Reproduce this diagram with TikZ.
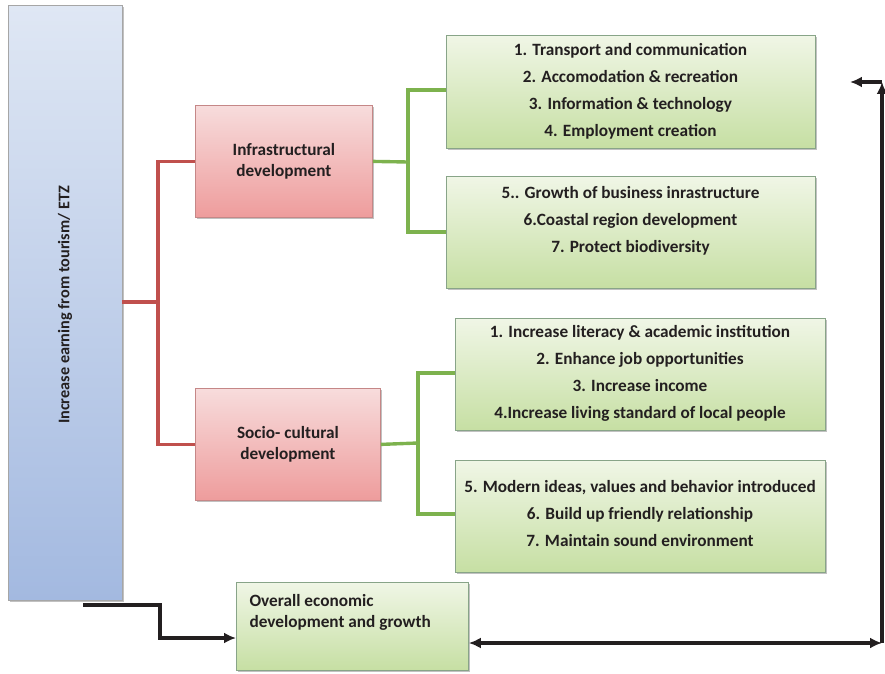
\documentclass[tikz,border=0pt]{standalone}
\usepackage{fontspec}
\setmainfont{Carlito}
\usetikzlibrary{shadows,arrows.meta}
\definecolor{txt}{HTML}{231F20}
\definecolor{redln}{HTML}{C0504D}
\definecolor{grnln}{HTML}{7DB24E}
\definecolor{blueT}{HTML}{DFE7F4}
\definecolor{blueB}{HTML}{A3B9E0}
\definecolor{redT}{HTML}{F7DCDC}
\definecolor{redB}{HTML}{EE9C9C}
\definecolor{grnT}{HTML}{F0F6E6}
\definecolor{grnB}{HTML}{C6DFA3}
\begin{document}
\begin{tikzpicture}[x=1bp,y=-1bp,
  box/.style={draw=#1, line width=0.8pt, anchor=north west, inner sep=0pt,
    drop shadow={shadow xshift=1.8pt, shadow yshift=-1.8pt, opacity=0.35, fill=black!70}},
  bluebox/.style={box=gray!70, top color=blueT, bottom color=blueB},
  redbox/.style={box=gray!65!red!70, top color=redT, bottom color=redB},
  grnbox/.style={box=gray!60!green!50!black!55, top color=grnT, bottom color=grnB},
  lbl/.style={font=\fontsize{17.3}{27}\selectfont\bfseries, text=txt, align=center},
  redlink/.style={draw=redln, line width=3.4pt},
  grnlink/.style={draw=grnln, line width=3.4pt},
  tip/.style={-{Latex[length=12pt,width=11pt]}},
  blklink/.style={draw=txt, line width=3.2pt, tip},
]
\useasboundingbox (0,0) rectangle (885,674);

% main source box
\node[bluebox, minimum width=114bp, minimum height=595bp] (src) at (8,5) {};
\node[lbl, rotate=90, font=\fontsize{16.3}{20}\selectfont\bfseries] at (65,305) {Increase earning from tourism/ ETZ};

% development boxes
\node[redbox, minimum width=177bp, minimum height=112bp] (infra) at (195,105) {};
\node[lbl, font=\fontsize{17.3}{21}\selectfont\bfseries] at (infra.center) {Infrastructural\\development};
\node[redbox, minimum width=185bp, minimum height=112bp] (socio) at (195,388) {};
\node[lbl, font=\fontsize{17.3}{21}\selectfont\bfseries] at (socio.center) {Socio- cultural\\development};

% outcome boxes
\node[grnbox, minimum width=369bp, minimum height=113bp] (g1) at (446,35) {};
\node[lbl, anchor=north] at (630.5,40) {1. Transport and communication\\2. Accomodation \& recreation\\3. Information \& technology\\4. Employment creation};
\node[grnbox, minimum width=369bp, minimum height=112bp] (g2) at (446,176) {};
\node[lbl, anchor=north] at (630.5,183) {5.. Growth of business inrastructure\\6.Coastal region development\\7. Protect biodiversity};
\node[grnbox, minimum width=370bp, minimum height=112bp] (g3) at (455,318) {};
\node[lbl, anchor=north] at (640,322) {1. Increase literacy \& academic institution\\2. Enhance job opportunities\\3. Increase income\\4.Increase living standard of local people};
\node[grnbox, minimum width=370bp, minimum height=112bp] (g4) at (455,460) {};
\node[lbl, anchor=north] at (640,477) {5. Modern ideas, values and behavior introduced\\6. Build up friendly relationship\\7. Maintain sound environment};

% overall outcome box
\node[grnbox, minimum width=232bp, minimum height=88bp] (ov) at (236,582) {};
\node[lbl, align=left, anchor=north west, font=\fontsize{17.3}{21}\selectfont\bfseries] at (246,591) {Overall economic\\development and growth};

% red branches
\coordinate (rj) at (158,302);
\draw[redlink] (122,302) -- (rj);
\draw[redlink] (infra.west) -| (rj) |- (socio.west);

% green branches
\draw[grnlink] (infra.east) -- (408,162);
\draw[grnlink] (g1.west |- 0,90) -| (408,232) -- (g2.west |- 0,232);
\draw[grnlink] (socio.east) -- (418,443);
\draw[grnlink] (g3.west |- 0,373) -| (418,514) -- (g4.west |- 0,514);

% feedback connectors
\coordinate (s1) at (83,605);
\draw[blklink] (s1) -- (160,605) -- (160,638) -- (ov.west |- 0,638);
\coordinate (c1) at (882,643);
\coordinate (c2) at (882,82);
\coordinate (c3) at (850,82);
\draw[blklink, {Latex[length=12pt,width=11pt]}-{Latex[length=12pt,width=11pt]}] (ov.east |- 0,643) -- (c1);
\draw[blklink] (c1) -- (c2);
\draw[blklink] (c2) -- (c3);
\end{tikzpicture}
\end{document}
